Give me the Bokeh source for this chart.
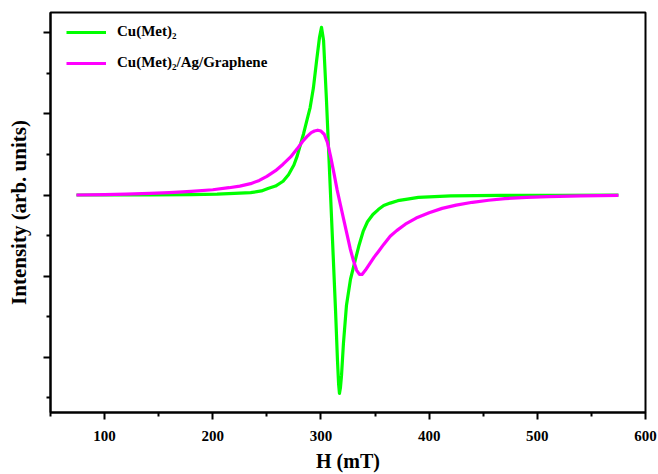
from bokeh.plotting import figure
from bokeh.models import FixedTicker, Range1d, Legend, LegendItem, CustomLabelingPolicy
from bokeh.embed import file_html
from bokeh.resources import INLINE

# Cu(Met)2 EPR spectrum (H in mT, intensity arb. units)
h_cu = [74, 142, 180, 204, 220, 235, 245, 251, 258, 265, 270, 275, 278, 281, 284, 287,
        290, 293, 296, 298.7, 300.5, 302.4, 305.1, 307.9, 310.7, 313.5, 315.3, 316.3, 317.1,
        318.0, 319.0, 320.8, 323.6, 327.3, 331, 335, 339, 343, 348, 353, 358, 364, 371,
        380, 390, 405, 420, 466, 520, 575]
i_cu = [0.0, 0.0, 0.005, 0.01, 0.02, 0.03, 0.05, 0.08, 0.11, 0.17, 0.25, 0.37, 0.48, 0.62,
        0.76, 0.92, 1.08, 1.32, 1.66, 1.95, 2.07, 1.91, 1.17, 0.30, -0.56, -1.43, -2.05,
        -2.33, -2.45, -2.38, -2.23, -1.83, -1.36, -1.04, -0.84, -0.63, -0.45, -0.33, -0.24,
        -0.18, -0.13, -0.10, -0.07, -0.05, -0.03, -0.02, -0.01, -0.005, -0.003, 0.0]

# Cu(Met)2/Ag/Graphene EPR spectrum
h_ag = [74, 100, 120, 142, 160, 180, 200, 215, 225, 235, 243, 250, 258, 265, 272, 278, 283,
        287, 291, 294, 297, 300, 303, 306, 309, 312, 315, 318, 321, 324, 327, 330, 333,
        335.6, 338, 341, 345, 349, 353, 358, 364, 370, 378, 388, 400, 412, 425, 440, 455,
        470, 490, 510, 540, 575]
i_ag = [0.0, 0.005, 0.01, 0.02, 0.03, 0.045, 0.065, 0.09, 0.11, 0.14, 0.18, 0.23, 0.30,
        0.38, 0.47, 0.57, 0.66, 0.72, 0.77, 0.79, 0.80, 0.79, 0.75, 0.65, 0.47, 0.27, 0.06,
        -0.12, -0.30, -0.48, -0.66, -0.81, -0.93, -0.98, -0.98, -0.93, -0.85, -0.77, -0.70,
        -0.61, -0.51, -0.44, -0.36, -0.285, -0.22, -0.165, -0.125, -0.09, -0.065, -0.045,
        -0.03, -0.02, -0.01, -0.005]

x_ticks = [100, 200, 300, 400, 500, 600]
x_minor = [50, 150, 250, 350, 450, 550]
y_ticks = [-2, -1, 0, 1, 2]
y_minor = [-2.5, -1.5, -0.5, 0.5, 1.5]

labels = ["Cu(Met)\u2082", "Cu(Met)\u2082/Ag/Graphene"]
colors = ["#00ff00", "#ff00ff"]

FONT = "Liberation Serif"

p = figure(width=658, height=474, output_backend="svg", toolbar_location=None,
           x_range=Range1d(50, 600), y_range=Range1d(-2.685, 2.253),
           min_border_left=50, min_border_right=13, min_border_top=12, min_border_bottom=62)
p.background_fill_color = "white"
p.border_fill_color = "white"
p.grid.visible = False
p.outline_line_color = "black"
p.outline_line_width = 2

r1 = p.line(h_cu, i_cu, line_color=colors[0], line_width=3.2, line_join="round")
r2 = p.line(h_ag, i_ag, line_color=colors[1], line_width=3.2, line_join="round")

for ax in (p.xaxis[0], p.yaxis[0]):
    ax.axis_line_width = 2
    ax.axis_line_color = "black"
    ax.major_tick_line_width = 2
    ax.minor_tick_line_width = 2
    ax.major_tick_in = 0
    ax.major_tick_out = 7
    ax.minor_tick_in = 0
    ax.minor_tick_out = 4
    ax.axis_label_text_font = FONT
    ax.axis_label_text_font_style = "bold"
    ax.axis_label_text_color = "black"
    ax.major_label_text_font = FONT
    ax.major_label_text_font_style = "bold"
    ax.major_label_text_font_size = "15px"
    ax.major_label_text_color = "black"

p.xaxis.ticker = FixedTicker(ticks=x_ticks, minor_ticks=x_minor)
p.yaxis.ticker = FixedTicker(ticks=y_ticks, minor_ticks=y_minor)
p.xaxis.axis_label = "H (mT)"
p.yaxis.axis_label = "Intensity (arb. units)"
p.xaxis.axis_label_text_font_size = "20px"
p.yaxis.axis_label_text_font_size = "21px"
p.xaxis.major_label_standoff = 11
p.xaxis.axis_label_standoff = 6
# the reference shows no tick labels on the intensity axis
p.yaxis.major_label_overrides = {t: "" for t in y_ticks}
p.yaxis.major_label_policy = CustomLabelingPolicy(
    code="for (const i of Array.from(indices)) indices.unset(i); return indices")
p.yaxis.major_label_standoff = 0
p.yaxis.axis_label_standoff = 13

legend = Legend(items=[LegendItem(label=labels[0], renderers=[r1]),
                       LegendItem(label=labels[1], renderers=[r2])],
                location=(16, 341), margin=0, padding=0, spacing=14,
                glyph_width=40, glyph_height=14, label_height=14, label_standoff=11,
                label_text_font=FONT, label_text_font_style="bold",
                label_text_font_size="15px", label_text_color="black",
                border_line_color=None, background_fill_alpha=0)
p.add_layout(legend)

open("out.html", "w").write(file_html(p, INLINE))
